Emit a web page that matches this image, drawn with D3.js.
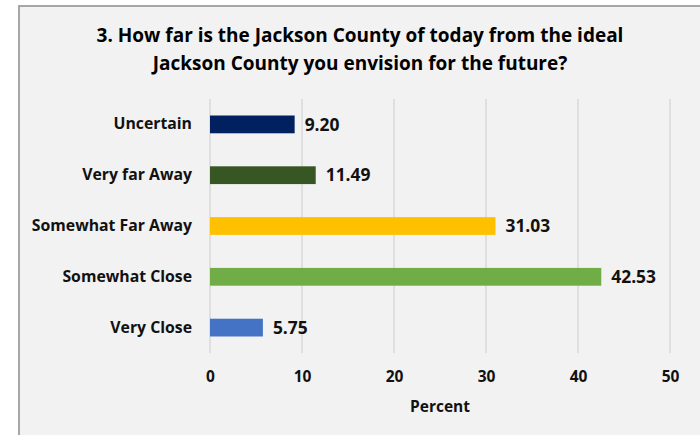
<!DOCTYPE html>
<html><head><meta charset="utf-8">
<script src="https://cdn.jsdelivr.net/npm/d3@7"></script>
<style>
html,body{margin:0;padding:0;background:#fff;}
svg{display:block;font-family:"Open Sans","Noto Sans",sans-serif;}
</style></head>
<body>
<svg id="c" width="700" height="435"></svg>
<script>
const categories = ["Uncertain","Very far Away","Somewhat Far Away","Somewhat Close","Very Close"];
const values = [9.20, 11.49, 31.03, 42.53, 5.75];
const colors = ["#002060","#375623","#FFC000","#70AD47","#4472C4"];
const ticks = [0,10,20,30,40,50];
const titleLines = ["3. How far is the Jackson County of today from the ideal","Jackson County you envision for the future?"];
const xTitle = "Percent";

const svg = d3.select("#c");
svg.append("rect").attr("x",19).attr("y",6).attr("width",700).attr("height",440)
  .attr("fill","#f2f2f2").attr("stroke","#a6a6a6").attr("stroke-width",2);

const x = d3.scaleLinear().domain([0,50]).range([210,670]);
const y = d3.scaleBand().domain(categories).range([99,353]).paddingInner(0.65).paddingOuter(0.325);

// gridlines
svg.append("g").selectAll("line").data(ticks).join("line")
  .attr("x1",d=>x(d)).attr("x2",d=>x(d)).attr("y1",99).attr("y2",353)
  .attr("stroke","#d9d9d9").attr("stroke-width",1.5);

// bars
svg.append("g").selectAll("rect").data(categories).join("rect")
  .attr("x",x(0)).attr("y",d=>y(d)).attr("height",y.bandwidth())
  .attr("width",(d,i)=>x(values[i])-x(0)).attr("fill",(d,i)=>colors[i]);

// value labels
svg.append("g").selectAll("text").data(categories).join("text")
  .attr("x",(d,i)=>x(values[i])+10).attr("y",d=>y(d)+y.bandwidth()/2)
  .attr("dy","0.36em").attr("font-size",17.4).attr("font-weight","bold").attr("fill","#111")
  .text((d,i)=>values[i].toFixed(2));

// category axis
const yAxis = d3.axisLeft(y).tickSize(0).tickPadding(18);
const gy = svg.append("g").attr("transform",`translate(${x(0)},0)`).call(yAxis);
gy.select(".domain").remove();
gy.selectAll("text").attr("font-size",15.8).attr("font-weight","bold").attr("fill","#111")
  .attr("font-family",'"Open Sans",sans-serif');

// x axis
const xAxis = d3.axisBottom(x).tickValues(ticks).tickSize(0).tickPadding(18);
const gx = svg.append("g").attr("transform","translate(0,353)").call(xAxis);
gx.select(".domain").remove();
gx.selectAll("text").attr("font-size",15.5).attr("font-weight","bold").attr("fill","#111")
  .attr("font-family",'"Open Sans",sans-serif');

svg.append("text").attr("x",440).attr("y",412).attr("text-anchor","middle")
  .attr("font-size",15.5).attr("font-weight","bold").attr("fill","#111").text(xTitle);

svg.append("g").selectAll("text").data(titleLines).join("text")
  .attr("x",360).attr("y",(d,i)=>42+i*28).attr("text-anchor","middle")
  .attr("font-size",19).attr("font-weight","bold").attr("fill","#000").text(d=>d);
</script>
</body></html>
